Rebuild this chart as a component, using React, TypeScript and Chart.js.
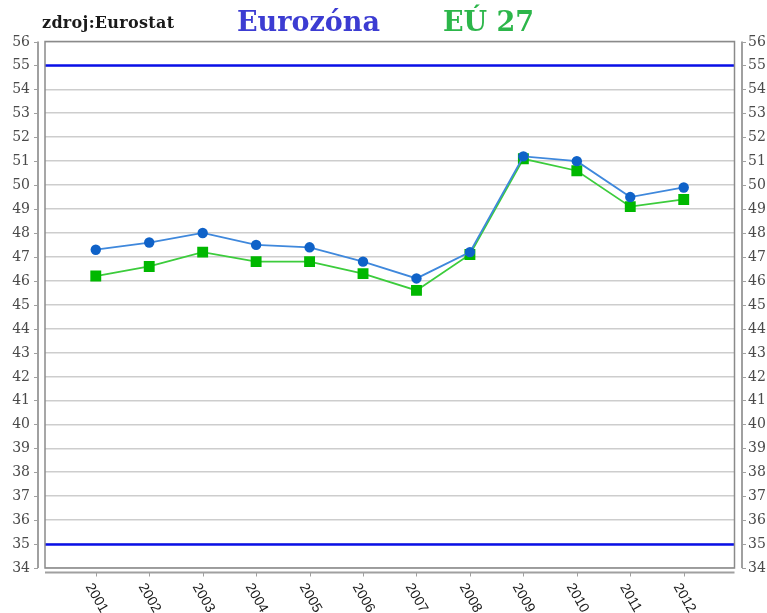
import React, { useEffect, useRef } from "react";
import { Chart, registerables } from "chart.js";

Chart.register(...registerables);

// ---- data ----
const years = [2001, 2002, 2003, 2004, 2005, 2006, 2007, 2008, 2009, 2010, 2011, 2012];
const eurozona = [47.3, 47.6, 48.0, 47.5, 47.4, 46.8, 46.1, 47.2, 51.2, 51.0, 49.5, 49.9];
const eu27 = [46.2, 46.6, 47.2, 46.8, 46.8, 46.3, 45.6, 47.1, 51.1, 50.6, 49.1, 49.4];
const referenceLevels = [55, 35];
const yTickValues = [34, 35, 36, 37, 38, 39, 40, 41, 42, 43, 44, 45, 46, 47, 48, 49, 50, 51, 52, 53, 54, 55, 56];
const sourceLabel = "zdroj:Eurostat";
const seriesNames = ["Eurozóna", "EÚ 27"];

const Y_FONT = '14px "DejaVu Serif"';
const X_FONT = '14px "Liberation Sans"';

const decorPlugin = {
  id: "decor",
  beforeDatasetsDraw(chart: any) {
    const { ctx, chartArea: a, scales } = chart;
    const y = scales.y;
    ctx.save();
    ctx.strokeStyle = "#0a10e8";
    ctx.lineWidth = 2.5;
    referenceLevels.forEach((v) => {
      const py = Math.round(y.getPixelForValue(v)) + 0.5;
      ctx.beginPath();
      ctx.moveTo(a.left, py);
      ctx.lineTo(a.right, py);
      ctx.stroke();
    });
    ctx.restore();
  },
  afterDraw(chart: any) {
    const { ctx, chartArea: a, scales } = chart;
    const x = scales.x;
    const y = scales.y;
    ctx.save();
    // frame
    ctx.strokeStyle = "#8a8a8a";
    ctx.lineWidth = 1.5;
    ctx.strokeRect(a.left, a.top, a.right - a.left, a.bottom - a.top);

    // offset axis lines
    const leftAx = a.left - 7;
    const rightAx = a.right + 7.5;
    const bottomAx = a.bottom + 4.5;
    ctx.strokeStyle = "#a0a0a0";
    ctx.lineWidth = 2;
    ctx.beginPath();
    ctx.moveTo(leftAx, a.top);
    ctx.lineTo(leftAx, a.bottom);
    ctx.moveTo(rightAx, a.top);
    ctx.lineTo(rightAx, a.bottom);
    ctx.moveTo(a.left, bottomAx);
    ctx.lineTo(a.right, bottomAx);
    ctx.stroke();

    // y ticks & labels
    ctx.lineWidth = 1;
    ctx.strokeStyle = "#a0a0a0";
    ctx.fillStyle = "#4a4a4a";
    ctx.font = Y_FONT;
    ctx.textBaseline = "middle";
    y.ticks.forEach((t: any) => {
      const py = Math.round(y.getPixelForValue(t.value)) + 0.5;
      ctx.beginPath();
      ctx.moveTo(leftAx - 4, py);
      ctx.lineTo(leftAx, py);
      ctx.moveTo(rightAx, py);
      ctx.lineTo(rightAx + 4, py);
      ctx.stroke();
      ctx.textAlign = "right";
      ctx.fillText(String(t.value), 30, py);
      ctx.textAlign = "left";
      ctx.fillText(String(t.value), rightAx + 6, py);
    });

    // x ticks & rotated labels
    ctx.fillStyle = "#1a1a1a";
    ctx.font = X_FONT;
    years.forEach((yr) => {
      const px = Math.round(x.getPixelForValue(yr)) + 0.5;
      ctx.beginPath();
      ctx.moveTo(px, bottomAx);
      ctx.lineTo(px, bottomAx + 4);
      ctx.stroke();
      ctx.save();
      ctx.translate(px, a.bottom + 30);
      ctx.rotate((60 * Math.PI) / 180);
      ctx.textAlign = "center";
      ctx.textBaseline = "middle";
      ctx.fillText(String(yr), 0, 0);
      ctx.restore();
    });
    ctx.restore();
  },
};

export default function App() {
  const ref = useRef<HTMLCanvasElement | null>(null);

  useEffect(() => {
    const prev = document.body.style.margin;
    document.body.style.margin = "0";
    if (!ref.current) return;
    const chart = new Chart(ref.current, {
      type: "line",
      data: {
        datasets: [
          {
            label: seriesNames[0],
            data: years.map((yr, i) => ({ x: yr, y: eurozona[i] })),
            borderColor: "#3f88dc",
            backgroundColor: "#0f62c8",
            pointBackgroundColor: "#0f62c8",
            pointBorderColor: "#0f62c8",
            borderWidth: 1.8,
            pointStyle: "circle",
            pointRadius: 5.2,
            pointBorderWidth: 0,
            tension: 0,
          },
          {
            label: seriesNames[1],
            data: years.map((yr, i) => ({ x: yr, y: eu27[i] })),
            borderColor: "#3ccc3c",
            backgroundColor: "#00b800",
            pointBackgroundColor: "#00b800",
            pointBorderColor: "#00b800",
            borderWidth: 1.8,
            pointStyle: "rect",
            pointRadius: 7.7,
            pointBorderWidth: 0,
            tension: 0,
          },
        ],
      },
      plugins: [decorPlugin],
      options: {
        animation: false,
        responsive: true,
        maintainAspectRatio: false,
        layout: { padding: { left: 45, right: 32.5, top: 41.5, bottom: 45 } },
        plugins: {
          legend: { display: false },
          tooltip: { enabled: false },
        },
        scales: {
          x: {
            type: "linear",
            min: 2000.05,
            max: 2012.95,
            grid: { display: false, drawTicks: false },
            border: { display: false },
            ticks: { display: false },
          },
          y: {
            type: "linear",
            min: 34,
            max: 56,
            afterBuildTicks: (s: any) => {
              s.ticks = yTickValues.map((v) => ({ value: v }));
            },
            grid: { color: "#cdcdcd", lineWidth: 1.6, drawTicks: false },
            border: { display: false },
            ticks: { display: false },
          },
        },
      },
    });
    return () => {
      chart.destroy();
      document.body.style.margin = prev;
    };
  }, []);

  return (
    <div style={{ position: "fixed", left: 0, top: 0, width: 767, height: 613, background: "#fff" }}>
      <canvas ref={ref} />
      <div
        style={{
          position: "absolute",
          left: 42,
          top: 14,
          font: '600 16px "DejaVu Serif"',
          letterSpacing: "0.3px",
          color: "#1a1a1a",
          whiteSpace: "nowrap",
          lineHeight: "18px",
        }}
      >
        {sourceLabel}
      </div>
      <div
        style={{
          position: "absolute",
          left: 237,
          top: 7,
          font: 'bold 27px "DejaVu Serif"',
          color: "#3c3cd2",
          whiteSpace: "nowrap",
          lineHeight: "30px",
        }}
      >
        {seriesNames[0]}
      </div>
      <div
        style={{
          position: "absolute",
          left: 443,
          top: 7,
          font: 'bold 27px "DejaVu Serif"',
          color: "#2cb64a",
          whiteSpace: "nowrap",
          lineHeight: "30px",
        }}
      >
        {seriesNames[1]}
      </div>
    </div>
  );
}
